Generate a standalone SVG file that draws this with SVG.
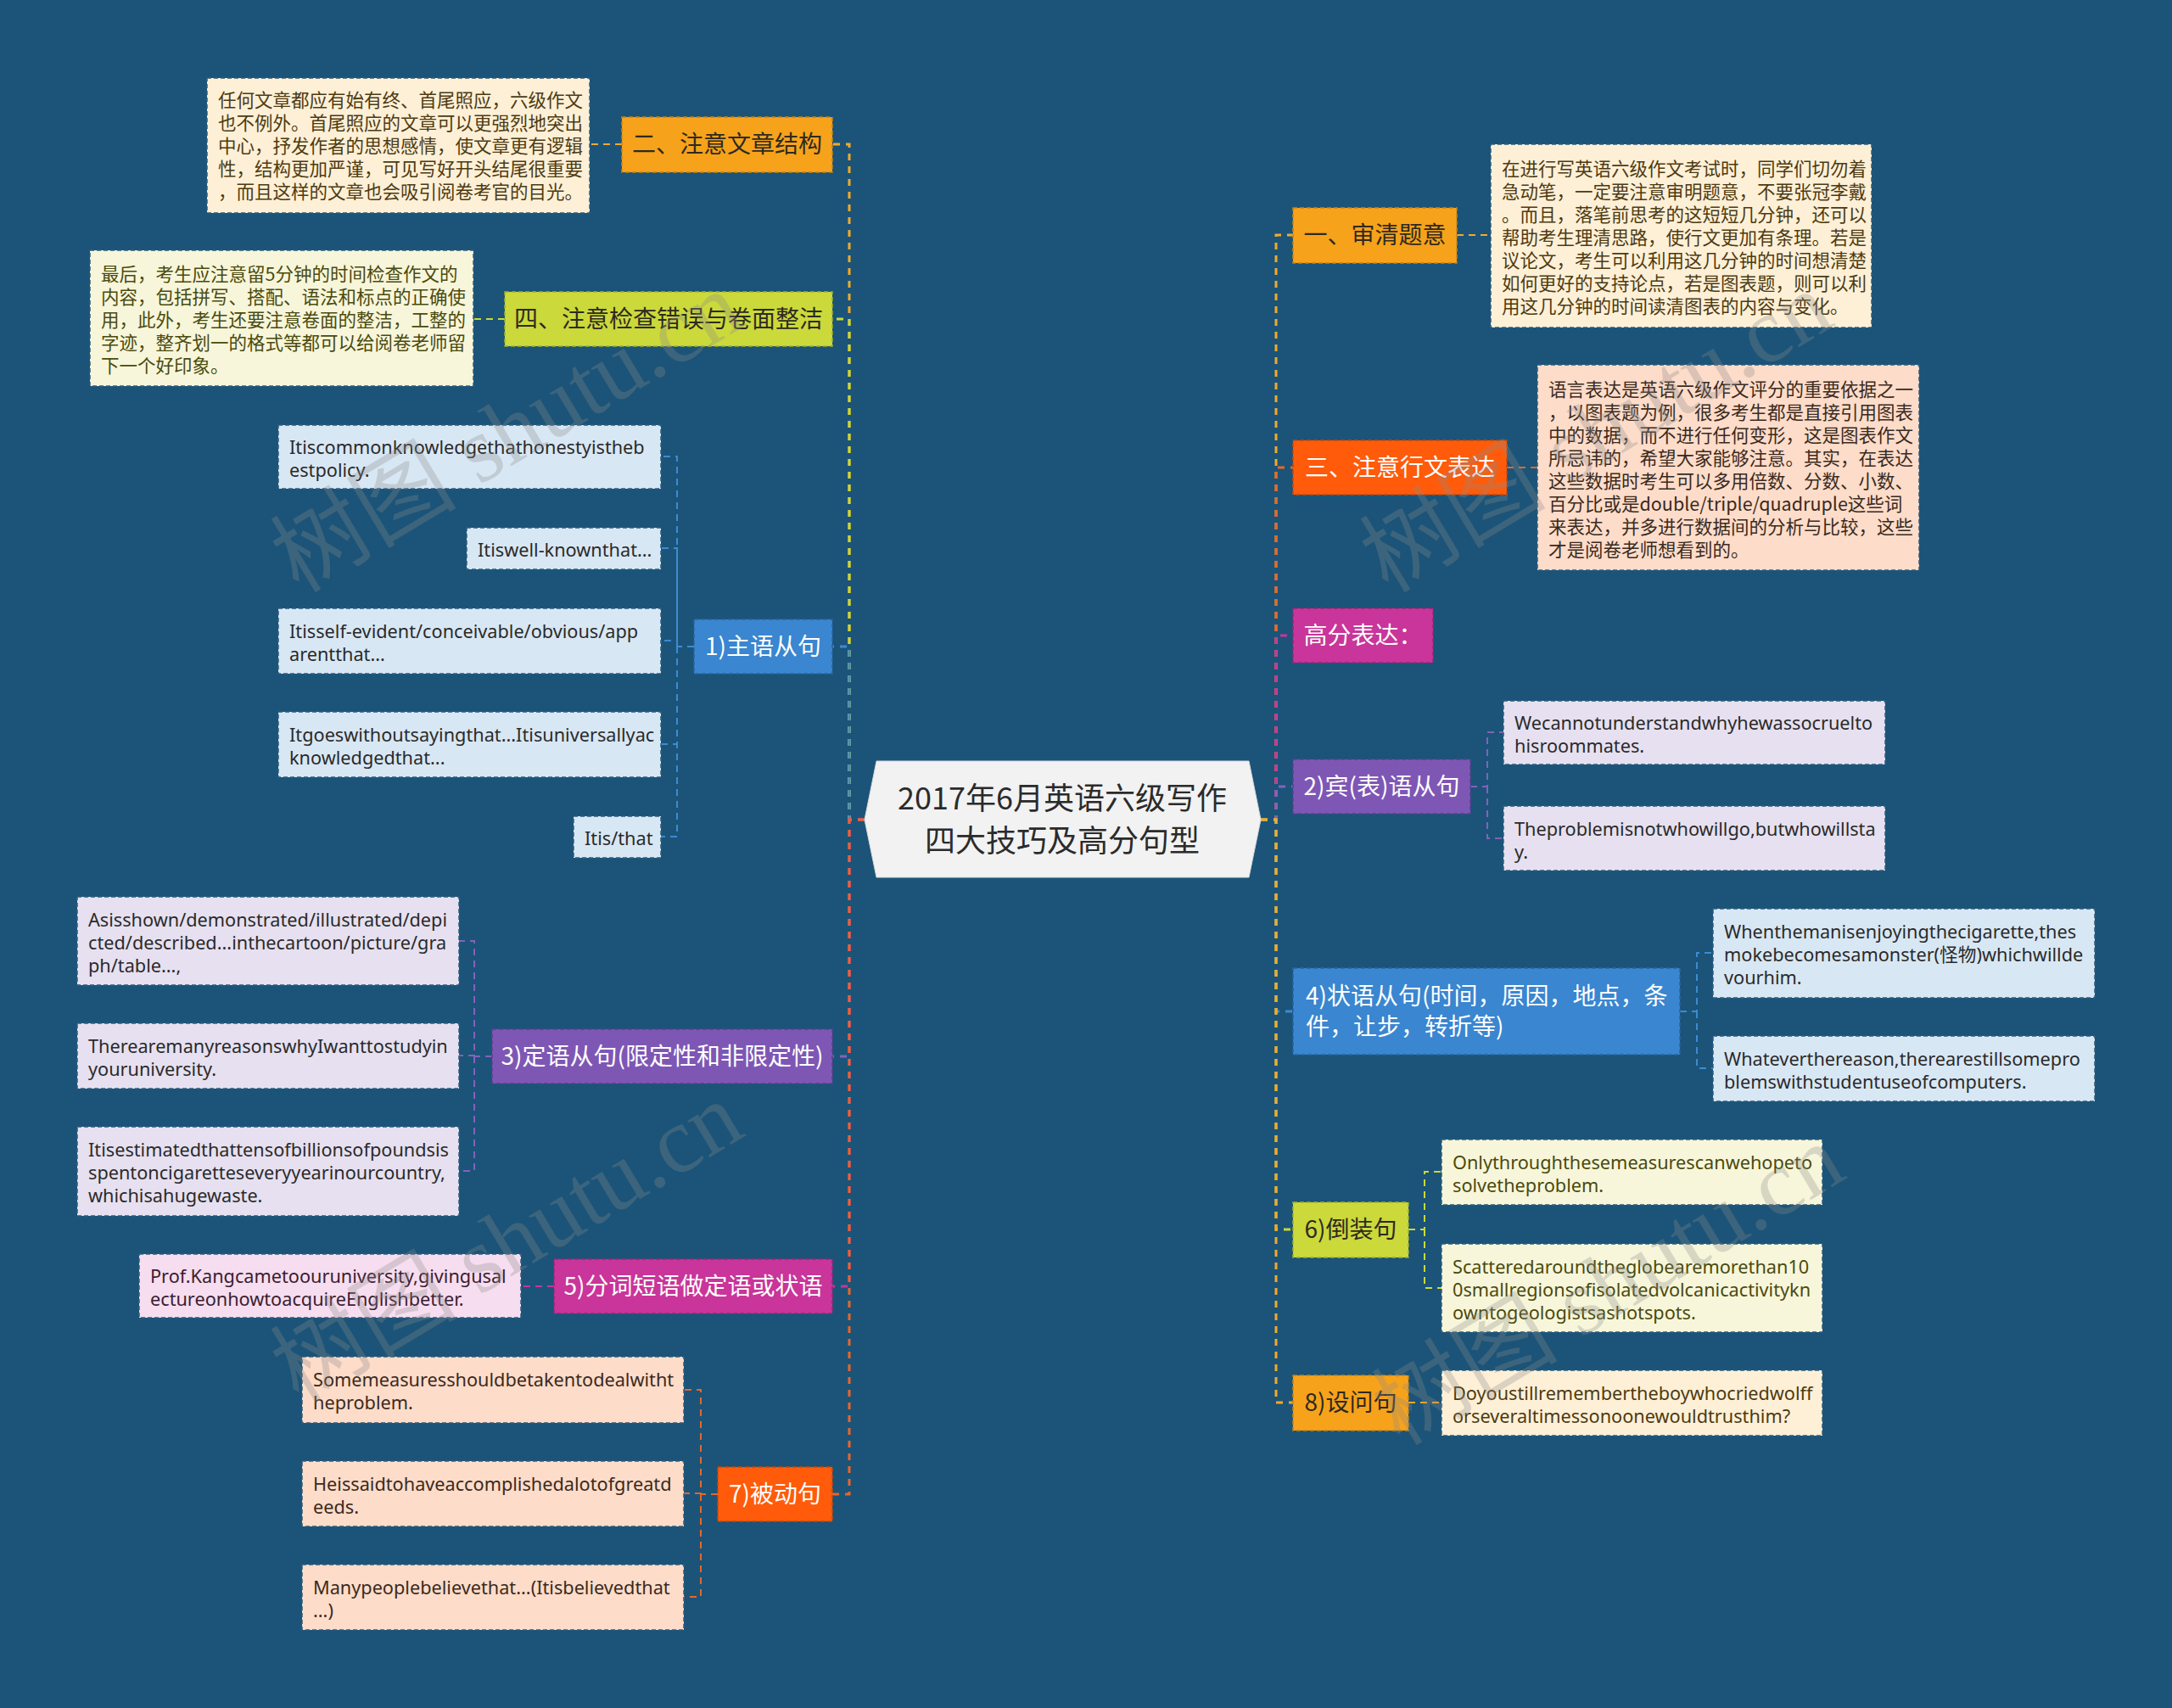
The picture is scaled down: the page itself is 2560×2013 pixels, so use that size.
<svg xmlns="http://www.w3.org/2000/svg" width="2560" height="2013" viewBox="0 0 2560 2013">
<style>
.c{fill:none;stroke-width:3;stroke-dasharray:8 7}
.s{fill:none;stroke-width:2;stroke-dasharray:8 6}
.or{stroke:#F2A92B}.lm{stroke:#C8D93A}.bl{stroke:#3E8AD2}.pu{stroke:#8660BE}.mg{stroke:#C8359B}.rd{stroke:#E8662A}
.nb{stroke-width:1.5;stroke-dasharray:5 3}
.n-or{fill:#F7A21B;stroke:#C98212}.n-lm{fill:#CBD93B;stroke:#A3B02A}.n-bl{fill:#3A86D0;stroke:#2A64A0}.n-pu{fill:#7E57B5;stroke:#5E3F8C}.n-mg{fill:#C9359A;stroke:#9A2676}.n-rd{fill:#FF5B0A;stroke:#C94708}
.lf{stroke-width:1.5;stroke-dasharray:5 3;stroke:#2E5C7E}
.l-cr{fill:#FDF0D7}.l-yl{fill:#F7F6DA}.l-bl{fill:#D8E7F4}.l-pu{fill:#E6E0F0}.l-pk{fill:#F6DDEF}.l-pe{fill:#FDDCC9}
text{font-family:"Noto Sans CJK SC","Noto Sans",sans-serif}
.nt{font-size:28px}
.nt-w{fill:#FFFFFF}.nt-d{fill:#2E2A20}
.lt{font-family:"Noto Sans","Noto Sans CJK SC",sans-serif;font-size:21.7px}
.lc{font-size:21.5px}
.t-cr{fill:#4E3A10}.t-yl{fill:#4A4A0E}.t-bl{fill:#2A2A2A}.t-pu{fill:#2A2A2A}.t-pk{fill:#3A2030}.t-pe{fill:#3A2A20}
.wm{font-family:"Liberation Serif","Noto Sans CJK SC",serif;font-size:110px;fill:#8C8C8C;fill-opacity:0.3}
</style>
<rect x="0" y="0" width="2560" height="2013" fill="#1B5478"/>

<g id="connectors">
  <path class="c or" d="M1019 966 H1001 V170 H981"/>
  <path class="c lm" d="M1019 966 H1001 V376 H981"/>
  <path class="c bl" d="M1019 966 H1001 V762 H981"/>
  <path class="c pu" d="M1019 966 H1001 V1245 H981"/>
  <path class="c mg" d="M1019 966 H1001 V1516 H981"/>
  <path class="c rd" d="M1019 966 H1001 V1761 H981"/>
  <path class="c or" d="M1486 966 H1504 V277 H1524"/>
  <path class="c rd" d="M1486 966 H1504 V551 H1524"/>
  <path class="c mg" d="M1486 966 H1504 V749 H1524"/>
  <path class="c pu" d="M1486 966 H1504 V927 H1524"/>
  <path class="c bl" d="M1486 966 H1504 V1192 H1524"/>
  <path class="c lm" d="M1486 966 H1504 V1449 H1524"/>
  <path class="c or" d="M1486 966 H1504 V1653 H1524"/>
  <path class="s or" d="M733 170 H695"/>
  <path class="s lm" d="M595 376 H558"/>
  <path class="s bl" d="M818 762 H798 V538 H779 M798 762 V646 H779 M798 762 V755 H779 M798 762 V877 H779 M798 762 V986 H779"/>
  <path class="s pu" d="M580 1245 H559 V1109 H541 M559 1245 V1244 H541 M559 1245 V1380 H541"/>
  <path class="s mg" d="M653 1516 H614"/>
  <path class="s rd" d="M846 1761 H826 V1638 H806 M826 1761 V1760 H806 M826 1761 V1882 H806"/>
  <path class="s or" d="M1717 277 H1757"/>
  <path class="s rd" d="M1776 551 H1812"/>
  <path class="s pu" d="M1733 927 H1753 V863 H1772 M1753 927 V988 H1772"/>
  <path class="s bl" d="M1980 1192 H2000 V1123 H2019 M2000 1192 V1259 H2019"/>
  <path class="s lm" d="M1660 1449 H1679 V1381 H1699 M1679 1449 V1518 H1699"/>
  <path class="s or" d="M1660 1653 H1699"/>
</g>

<g id="center">
  <polygon points="1019,966 1033,897 1472,897 1486,966 1472,1034 1033,1034" fill="#F2F2F2" stroke="#DADADA" stroke-width="1"/>
  <text x="1252" y="954" font-size="36" fill="#2B2B2B" text-anchor="middle">2017年6月英语六级写作</text>
  <text x="1252" y="1004" font-size="36" fill="#2B2B2B" text-anchor="middle">四大技巧及高分句型</text>
</g>

<g id="n-er">
  <rect class="nb n-or" x="733" y="138" width="248" height="65"/>
  <text class="nt nt-d" x="857" y="180" text-anchor="middle">二、注意文章结构</text>
</g>
<g id="l-er">
  <rect class="lf l-cr" x="244" y="92" width="451" height="159"/>
  <g class="lc t-cr">
    <text x="257" y="125.5">任何文章都应有始有终、首尾照应，六级作文</text>
    <text x="257" y="152.5">也不例外。首尾照应的文章可以更强烈地突出</text>
    <text x="257" y="179.5">中心，抒发作者的思想感情，使文章更有逻辑</text>
    <text x="257" y="206.5">性，结构更加严谨，可见写好开头结尾很重要</text>
    <text x="257" y="233.5">，而且这样的文章也会吸引阅卷考官的目光。</text>
  </g>
</g>

<g id="n-si">
  <rect class="nb n-lm" x="595" y="344" width="386" height="64"/>
  <text class="nt nt-d" x="788" y="386" text-anchor="middle">四、注意检查错误与卷面整洁</text>
</g>
<g id="l-si">
  <rect class="lf l-yl" x="106" y="295" width="452" height="160"/>
  <g class="lc t-yl">
    <text x="119" y="331">最后，考生应注意留5分钟的时间检查作文的</text>
    <text x="119" y="358">内容，包括拼写、搭配、语法和标点的正确使</text>
    <text x="119" y="385">用，此外，考生还要注意卷面的整洁，工整的</text>
    <text x="119" y="412">字迹，整齐划一的格式等都可以给阅卷老师留</text>
    <text x="119" y="439">下一个好印象。</text>
  </g>
</g>

<g id="n-1">
  <rect class="nb n-bl" x="818" y="730" width="163" height="64"/>
  <text class="nt nt-w" x="899.5" y="772" text-anchor="middle">1)主语从句</text>
</g>
<g id="l-1a">
  <rect class="lf l-bl" x="328" y="501" width="451" height="75"/>
  <text class="lt t-bl" x="341" y="535">Itiscommonknowledgethathonestyistheb</text>
  <text class="lt t-bl" x="341" y="562">estpolicy.</text>
</g>
<g id="l-1b">
  <rect class="lf l-bl" x="550" y="622" width="229" height="49"/>
  <text class="lt t-bl" x="563" y="656">Itiswell-knownthat...</text>
</g>
<g id="l-1c">
  <rect class="lf l-bl" x="328" y="717" width="451" height="77"/>
  <text class="lt t-bl" x="341" y="752">Itisself-evident/conceivable/obvious/app</text>
  <text class="lt t-bl" x="341" y="779">arentthat...</text>
</g>
<g id="l-1d">
  <rect class="lf l-bl" x="328" y="839" width="451" height="77"/>
  <text class="lt t-bl" x="341" y="874">Itgoeswithoutsayingthat...Itisuniversallyac</text>
  <text class="lt t-bl" x="341" y="901">knowledgedthat...</text>
</g>
<g id="l-1e">
  <rect class="lf l-bl" x="676" y="962" width="103" height="49"/>
  <text class="lt t-bl" x="689" y="996">Itis/that</text>
</g>

<g id="n-3">
  <rect class="nb n-pu" x="580" y="1213" width="401" height="64"/>
  <text class="nt nt-w" x="780.5" y="1255" text-anchor="middle">3)定语从句(限定性和非限定性)</text>
</g>
<g id="l-3a">
  <rect class="lf l-pu" x="91" y="1057" width="450" height="104"/>
  <text class="lt t-pu" x="104" y="1092">Asisshown/demonstrated/illustrated/depi</text>
  <text class="lt t-pu" x="104" y="1119">cted/described...inthecartoon/picture/gra</text>
  <text class="lt t-pu" x="104" y="1146">ph/table...,</text>
</g>
<g id="l-3b">
  <rect class="lf l-pu" x="91" y="1206" width="450" height="77"/>
  <text class="lt t-pu" x="104" y="1241">TherearemanyreasonswhyIwanttostudyin</text>
  <text class="lt t-pu" x="104" y="1268">youruniversity.</text>
</g>
<g id="l-3c">
  <rect class="lf l-pu" x="91" y="1328" width="450" height="105"/>
  <text class="lt t-pu" x="104" y="1363">Itisestimatedthattensofbillionsofpoundsis</text>
  <text class="lt t-pu" x="104" y="1390">spentoncigaretteseveryyearinourcountry,</text>
  <text class="lt t-pu" x="104" y="1417">whichisahugewaste.</text>
</g>

<g id="n-5">
  <rect class="nb n-mg" x="653" y="1484" width="328" height="64"/>
  <text class="nt nt-w" x="817" y="1526" text-anchor="middle">5)分词短语做定语或状语</text>
</g>
<g id="l-5">
  <rect class="lf l-pk" x="164" y="1478" width="450" height="75"/>
  <text class="lt t-pk" x="177" y="1512">Prof.Kangcametoouruniversity,givingusal</text>
  <text class="lt t-pk" x="177" y="1539">ectureonhowtoacquireEnglishbetter.</text>
</g>

<g id="n-7">
  <rect class="nb n-rd" x="846" y="1729" width="135" height="64"/>
  <text class="nt nt-w" x="913.5" y="1771" text-anchor="middle">7)被动句</text>
</g>
<g id="l-7a">
  <rect class="lf l-pe" x="356" y="1599" width="450" height="78"/>
  <text class="lt t-pe" x="369" y="1634">Somemeasuresshouldbetakentodealwitht</text>
  <text class="lt t-pe" x="369" y="1661">heproblem.</text>
</g>
<g id="l-7b">
  <rect class="lf l-pe" x="356" y="1722" width="450" height="77"/>
  <text class="lt t-pe" x="369" y="1757">Heissaidtohaveaccomplishedalotofgreatd</text>
  <text class="lt t-pe" x="369" y="1784">eeds.</text>
</g>
<g id="l-7c">
  <rect class="lf l-pe" x="356" y="1844" width="450" height="77"/>
  <text class="lt t-pe" x="369" y="1879">Manypeoplebelievethat...(Itisbelievedthat</text>
  <text class="lt t-pe" x="369" y="1906">...)</text>
</g>

<g id="n-yi">
  <rect class="nb n-or" x="1524" y="245" width="193" height="65"/>
  <text class="nt nt-d" x="1620.5" y="287" text-anchor="middle">一、审清题意</text>
</g>
<g id="l-yi">
  <rect class="lf l-cr" x="1757" y="170" width="449" height="216"/>
  <g class="lc t-cr">
    <text x="1770" y="207">在进行写英语六级作文考试时，同学们切勿着</text>
    <text x="1770" y="234">急动笔，一定要注意审明题意，不要张冠李戴</text>
    <text x="1770" y="261">。而且，落笔前思考的这短短几分钟，还可以</text>
    <text x="1770" y="288">帮助考生理清思路，使行文更加有条理。若是</text>
    <text x="1770" y="315">议论文，考生可以利用这几分钟的时间想清楚</text>
    <text x="1770" y="342">如何更好的支持论点，若是图表题，则可以利</text>
    <text x="1770" y="369">用这几分钟的时间读清图表的内容与变化。</text>
  </g>
</g>

<g id="n-san">
  <rect class="nb n-rd" x="1524" y="519" width="252" height="64"/>
  <text class="nt nt-w" x="1650" y="561" text-anchor="middle">三、注意行文表达</text>
</g>
<g id="l-san">
  <rect class="lf l-pe" x="1812" y="430" width="450" height="242"/>
  <g class="lc t-pe">
    <text x="1825" y="466.5">语言表达是英语六级作文评分的重要依据之一</text>
    <text x="1825" y="493.5">，以图表题为例，很多考生都是直接引用图表</text>
    <text x="1825" y="520.5">中的数据，而不进行任何变形，这是图表作文</text>
    <text x="1825" y="547.5">所忌讳的，希望大家能够注意。其实，在表达</text>
    <text x="1825" y="574.5">这些数据时考生可以多用倍数、分数、小数、</text>
    <text x="1825" y="601.5">百分比或是double/triple/quadruple这些词</text>
    <text x="1825" y="628.5">来表达，并多进行数据间的分析与比较，这些</text>
    <text x="1825" y="655.5">才是阅卷老师想看到的。</text>
  </g>
</g>

<g id="n-gf">
  <rect class="nb n-mg" x="1524" y="717" width="165" height="64"/>
  <text class="nt nt-w" x="1606.5" y="759" text-anchor="middle">高分表达：</text>
</g>

<g id="n-2">
  <rect class="nb n-pu" x="1524" y="895" width="209" height="64"/>
  <text class="nt nt-w" x="1628.5" y="937" text-anchor="middle">2)宾(表)语从句</text>
</g>
<g id="l-2a">
  <rect class="lf l-pu" x="1772" y="826" width="450" height="75"/>
  <text class="lt t-pu" x="1785" y="860">Wecannotunderstandwhyhewassocruelto</text>
  <text class="lt t-pu" x="1785" y="887">hisroommates.</text>
</g>
<g id="l-2b">
  <rect class="lf l-pu" x="1772" y="950" width="450" height="76"/>
  <text class="lt t-pu" x="1785" y="984.5">Theproblemisnotwhowillgo,butwhowillsta</text>
  <text class="lt t-pu" x="1785" y="1011.5">y.</text>
</g>

<g id="n-4">
  <rect class="nb n-bl" x="1524" y="1141" width="456" height="102"/>
  <text class="nt nt-w" x="1539" y="1184">4)状语从句(时间，原因，地点，条</text>
  <text class="nt nt-w" x="1539" y="1220">件，让步，转折等)</text>
</g>
<g id="l-4a">
  <rect class="lf l-bl" x="2019" y="1071" width="450" height="105"/>
  <text class="lt t-bl" x="2032" y="1106">Whenthemanisenjoyingthecigarette,thes</text>
  <text class="lt t-bl" x="2032" y="1133">mokebecomesamonster(怪物)whichwillde</text>
  <text class="lt t-bl" x="2032" y="1160">vourhim.</text>
</g>
<g id="l-4b">
  <rect class="lf l-bl" x="2019" y="1221" width="450" height="77"/>
  <text class="lt t-bl" x="2032" y="1256">Whateverthereason,therearestillsomepro</text>
  <text class="lt t-bl" x="2032" y="1283">blemswithstudentuseofcomputers.</text>
</g>

<g id="n-6">
  <rect class="nb n-lm" x="1524" y="1417" width="136" height="65"/>
  <text class="nt nt-d" x="1592" y="1459" text-anchor="middle">6)倒装句</text>
</g>
<g id="l-6a">
  <rect class="lf l-yl" x="1699" y="1343" width="449" height="77"/>
  <text class="lt t-yl" x="1712" y="1378">Onlythroughthesemeasurescanwehopeto</text>
  <text class="lt t-yl" x="1712" y="1405">solvetheproblem.</text>
</g>
<g id="l-6b">
  <rect class="lf l-yl" x="1699" y="1466" width="449" height="104"/>
  <text class="lt t-yl" x="1712" y="1501">Scatteredaroundtheglobearemorethan10</text>
  <text class="lt t-yl" x="1712" y="1528">0smallregionsofisolatedvolcanicactivitykn</text>
  <text class="lt t-yl" x="1712" y="1555">owntogeologistsashotspots.</text>
</g>

<g id="n-8">
  <rect class="nb n-or" x="1524" y="1621" width="136" height="65"/>
  <text class="nt nt-d" x="1592" y="1663" text-anchor="middle">8)设问句</text>
</g>
<g id="l-8">
  <rect class="lf l-cr" x="1699" y="1615" width="449" height="77"/>
  <text class="lt t-cr" x="1712" y="1650">Doyoustillremembertheboywhocriedwolff</text>
  <text class="lt t-cr" x="1712" y="1677">orseveraltimessonoonewouldtrusthim?</text>
</g>

<g id="watermarks">
  <text class="wm" transform="translate(352,700) rotate(-31)">树图 shutu.cn</text>
  <text class="wm" transform="translate(1636,700) rotate(-31)">树图 shutu.cn</text>
  <text class="wm" transform="translate(352,1655) rotate(-31)">树图 shutu.cn</text>
  <text class="wm" transform="translate(1650,1705) rotate(-31)">树图 shutu.cn</text>
</g>
</svg>
